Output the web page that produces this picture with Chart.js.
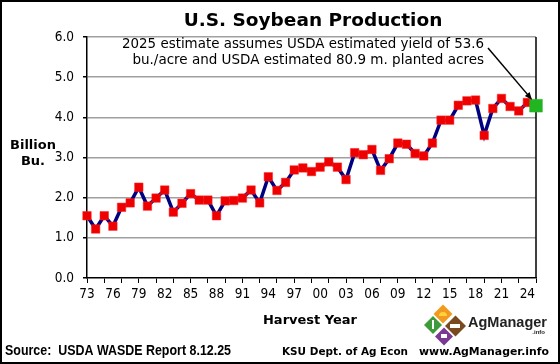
<!DOCTYPE html>
<html lang="en">
    <head>
        <meta charset="UTF-8">
        <title>U.S. Soybean Production</title>
        <script src="https://cdn.jsdelivr.net/npm/chart.js@4.4.1/dist/chart.umd.min.js"></script>
        <style>
            body { margin: 0; background: #fff; }
            #wrap { position: relative; width: 560px; height: 364px; }
            #frame { position: absolute; left: 0; top: 0; width: 560px; height: 364px; box-sizing: border-box; border: 2px solid #000; pointer-events: none; }
        </style>
    </head>
    <body>
        <div id="wrap">
            <canvas id="grafica" width="560" height="364"></canvas>
            <div id="frame"></div>
        </div>
        <script>
        // Harvest years (categories)
        const years = [1973, 1974, 1975, 1976, 1977, 1978, 1979, 1980, 1981, 1982,
            1983, 1984, 1985, 1986, 1987, 1988, 1989, 1990, 1991, 1992,
            1993, 1994, 1995, 1996, 1997, 1998, 1999, 2000, 2001, 2002,
            2003, 2004, 2005, 2006, 2007, 2008, 2009, 2010, 2011, 2012,
            2013, 2014, 2015, 2016, 2017, 2018, 2019, 2020, 2021, 2022,
            2023, 2024, 2025];
        // Production, billion bushels, 1973-2024
        const production = [1.55, 1.22, 1.55, 1.29, 1.76, 1.87, 2.26, 1.79, 1.99, 2.19,
            1.64, 1.86, 2.10, 1.94, 1.94, 1.55, 1.92, 1.93, 1.99, 2.19,
            1.87, 2.52, 2.18, 2.38, 2.69, 2.74, 2.65, 2.76, 2.89, 2.76,
            2.45, 3.12, 3.07, 3.20, 2.68, 2.97, 3.36, 3.33, 3.10, 3.04,
            3.36, 3.93, 3.93, 4.30, 4.41, 4.43, 3.55, 4.22, 4.47, 4.27,
            4.16, 4.37];
        // 2025 USDA estimate
        const estimate2025 = [4.29];
        const yTicks = [0, 1, 2, 3, 4, 5, 6];

        const serie = production.concat(estimate2025);
        const ultimo = serie.length - 1;
        const tickFont = { family: "'DejaVu Sans Condensed', 'DejaVu Sans'", size: 13.5 };

        // textos, flecha, borde derecho y logo
        const extras = {
            id: 'extras',
            beforeDatasetsDraw(chart) {
                const ctx = chart.ctx, a = chart.chartArea;
                ctx.save();
                ctx.strokeStyle = '#000';
                ctx.lineWidth = 1.5;
                ctx.beginPath();
                ctx.moveTo(a.right, a.top);
                ctx.lineTo(a.right, a.bottom);
                ctx.stroke();
                ctx.restore();
            },
            afterDraw(chart) {
                const ctx = chart.ctx;
                ctx.save();
                ctx.fillStyle = '#000';
                ctx.textBaseline = 'alphabetic';

                // titulo
                ctx.textAlign = 'center';
                ctx.font = "bold 18.5px 'DejaVu Sans'";
                ctx.fillText('U.S. Soybean Production', 313, 26);

                // nota
                ctx.textAlign = 'right';
                ctx.font = "13.5px 'DejaVu Sans'";
                ctx.fillText('2025 estimate assumes USDA estimated yield of 53.6', 484, 48, 362);
                ctx.fillText('bu./acre and USDA estimated 80.9 m. planted acres', 484, 64, 352);

                // flecha hacia el punto 2025
                const p = chart.getDatasetMeta(0).data[ultimo];
                const x0 = 488, y0 = 48, x1 = p.x - 4, y1 = p.y - 6;
                const ang = Math.atan2(y1 - y0, x1 - x0);
                ctx.strokeStyle = '#000';
                ctx.lineWidth = 1.5;
                ctx.beginPath();
                ctx.moveTo(x0, y0);
                ctx.lineTo(x1 - 6 * Math.cos(ang), y1 - 6 * Math.sin(ang));
                ctx.stroke();
                ctx.beginPath();
                ctx.moveTo(x1, y1);
                ctx.lineTo(x1 - 8 * Math.cos(ang - 0.4), y1 - 8 * Math.sin(ang - 0.4));
                ctx.lineTo(x1 - 8 * Math.cos(ang + 0.4), y1 - 8 * Math.sin(ang + 0.4));
                ctx.closePath();
                ctx.fill();

                // titulos de ejes
                ctx.textAlign = 'center';
                ctx.font = "bold 13px 'DejaVu Sans'";
                ctx.fillText('Billion', 33, 149);
                ctx.fillText('Bu.', 33, 165);
                ctx.fillText('Harvest Year', 310, 324);

                // pie
                ctx.textAlign = 'left';
                ctx.font = "bold 15px 'Liberation Sans Narrow', 'Liberation Sans'";
                ctx.fillText('Source:  USDA WASDE Report 8.12.25', 5, 355, 226);
                ctx.font = "bold 11px 'DejaVu Sans'";
                ctx.fillText('KSU Dept. of Ag Econ', 282, 355, 126);
                ctx.textAlign = 'right';
                ctx.fillText('www.AgManager.info', 549, 355, 130);

                // logo AgManager
                const rombo = (cx, cy, h, color) => {
                    ctx.fillStyle = color;
                    ctx.beginPath();
                    ctx.moveTo(cx, cy - h);
                    ctx.lineTo(cx + h, cy);
                    ctx.lineTo(cx, cy + h);
                    ctx.lineTo(cx - h, cy);
                    ctx.closePath();
                    ctx.fill();
                };
                rombo(443, 314, 9.5, '#f29a1f');
                rombo(433, 325, 9, '#3f9a3a');
                rombo(455.5, 326, 10.5, '#7a4a1f');
                rombo(444, 336.5, 9, '#7b3a92');
                ctx.fillStyle = '#ffd23a';
                ctx.beginPath();
                ctx.arc(443, 316, 4, Math.PI, 0);
                ctx.fill();
                ctx.fillStyle = '#fff';
                ctx.fillRect(450, 324, 10, 4);
                ctx.fillRect(441, 334, 6, 4);
                ctx.fillRect(432, 320, 2, 9);

                ctx.fillStyle = '#222';
                ctx.textAlign = 'left';
                ctx.font = "bold 15px 'Liberation Sans'";
                ctx.fillText('AgManager', 468, 327, 79);
                ctx.textAlign = 'right';
                ctx.font = "bold 6px 'Liberation Sans'";
                ctx.fillText('.info', 545, 334);
                ctx.restore();
            }
        };

        const chart = new Chart(document.querySelector('#grafica'), {
            type: 'line',
            data: {
                labels: years,
                datasets: [{
                    data: serie,
                    borderColor: '#000080',
                    borderWidth: 3.5,
                    tension: 0,
                    clip: false,
                    pointStyle: 'rect',
                    pointRadius: c => c.dataIndex === ultimo ? 9 : 6,
                    pointBackgroundColor: c => c.dataIndex === ultimo ? '#22b522' : '#ee0000',
                    pointBorderColor: c => c.dataIndex === ultimo ? '#22b522' : '#ff2020',
                    pointBorderWidth: 0.5
                }]
            },
            options: {
                responsive: false,
                animation: false,
                events: [],
                layout: { padding: { top: 37, right: 24, left: 0, bottom: 0 } },
                plugins: { legend: { display: false }, tooltip: { enabled: false } },
                scales: {
                    x: {
                        type: 'category',
                        offset: false,
                        afterFit: s => { s.height = 86; },
                        border: { color: '#000', width: 1.5 },
                        grid: {
                            drawOnChartArea: false,
                            tickLength: 5,
                            tickWidth: 1,
                            tickColor: c => c.index % 2 === 0 ? '#000' : 'rgba(0,0,0,0)'
                        },
                        ticks: {
                            autoSkip: false,
                            maxRotation: 0,
                            padding: 3,
                            color: '#000',
                            font: tickFont,
                            callback: (v, i) => i % 3 === 0 ? String(years[i]).slice(2) : ''
                        }
                    },
                    y: {
                        min: yTicks[0],
                        max: yTicks[yTicks.length - 1],
                        afterFit: s => { s.width = 87; },
                        afterBuildTicks: s => { s.ticks = yTicks.map(v => ({ value: v })); },
                        border: { color: '#000', width: 1.5 },
                        grid: {
                            color: c => c.tick && c.tick.value === 0 ? 'rgba(0,0,0,0)' : '#a0a0a0',
                            lineWidth: 1.5,
                            tickLength: 4,
                            tickColor: '#000'
                        },
                        ticks: {
                            padding: 9,
                            color: '#000',
                            font: tickFont,
                            callback: v => v.toFixed(1)
                        }
                    }
                }
            },
            plugins: [extras]
        });
        </script>
    </body>
</html>
